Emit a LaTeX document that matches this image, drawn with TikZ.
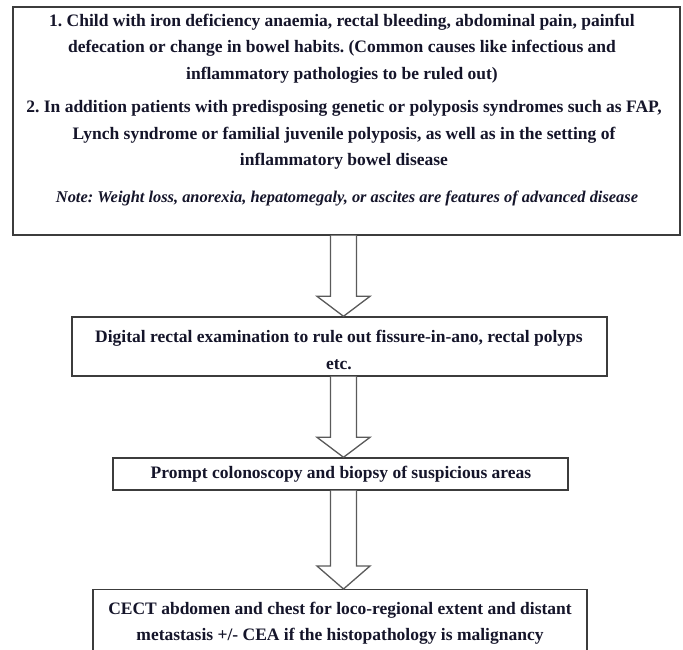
\documentclass[tikz,border=0pt]{standalone}
\usepackage{fontspec}
\setmainfont{Liberation Serif}
\usetikzlibrary{calc}
\definecolor{boxgrey}{HTML}{3C3C3C}
\definecolor{arrgrey}{HTML}{5A5A5A}
\definecolor{txtcol}{HTML}{15152A}
\frenchspacing
\begin{document}
\begin{tikzpicture}[x=1pt,y=-1pt,
  box/.style={draw=boxgrey, line width=1.4pt, fill=white, inner sep=0pt},
  txt/.style={font=\fontsize{17.5}{26.5}\selectfont\bfseries, align=center, text=txtcol, inner sep=0pt},
  notetxt/.style={font=\fontsize{16.4}{18}\selectfont\bfseries\itshape, align=center, text=txtcol, inner sep=0pt},
  barrow/.style={draw=arrgrey, line width=1.3pt, fill=white, line join=miter}]
\useasboundingbox (0,0) rectangle (683,649);
\clip (0,0) rectangle (683,649);
% boxes
\node[box, minimum width=667pt, minimum height=228pt] (b1) at (346.5,121) {};
\node[box, minimum width=535pt, minimum height=59pt] (b2) at (339.5,346.5) {};
\node[box, minimum width=455pt, minimum height=32pt] (b3) at (340.5,474) {};
\node[box, minimum width=494pt, minimum height=120pt, anchor=north] (b4) at (340,589) {};
% texts
\node[txt] (t1a) at (342,48.5) {1. Child with iron deficiency anaemia, rectal bleeding, abdominal pain, painful\\defecation or change in bowel habits. (Common causes like infectious and\\inflammatory pathologies to be ruled out)};
\node[txt] (t1b) at (344,135) {2. In addition patients with predisposing genetic or polyposis syndromes such as FAP,\\Lynch syndrome or familial juvenile polyposis, as well as in the setting of\\inflammatory bowel disease};
\node[notetxt] (t1c) at (347,198) {Note: Weight loss, anorexia, hepatomegaly, or ascites are features of advanced disease};
\node[txt] (t2) at (339,350) {Digital rectal examination to rule out fissure-in-ano, rectal polyps\\etc.};
\node[txt] (t3) at (341,474) {Prompt colonoscopy and biopsy of suspicious areas};
\node[txt] (t4) at (340,623.5) {CECT abdomen and chest for loco-regional extent and distant\\metastasis +/- CEA if the histopathology is malignancy};
% arrows
\coordinate (ax) at (343.5,0);
\path (b1.south -| ax) coordinate (a1s) (b2.north -| ax) coordinate (a1t);
\path (b2.south -| ax) coordinate (a2s) (b3.north -| ax) coordinate (a2t);
\path (b3.south -| ax) coordinate (a3s) (b4.north -| ax) coordinate (a3t);
\draw[barrow] ($(a1s)+(-13,0)$) -- ($(a1t)+(-13,-20)$) -- ($(a1t)+(-26.5,-20)$) -- (a1t) -- ($(a1t)+(26.5,-20)$) -- ($(a1t)+(13,-20)$) -- ($(a1s)+(13,0)$);
\draw[barrow] ($(a2s)+(-13,0)$) -- ($(a2t)+(-13,-20)$) -- ($(a2t)+(-26.5,-20)$) -- (a2t) -- ($(a2t)+(26.5,-20)$) -- ($(a2t)+(13,-20)$) -- ($(a2s)+(13,0)$);
\draw[barrow] ($(a3s)+(-13,0)$) -- ($(a3t)+(-13,-23)$) -- ($(a3t)+(-26.5,-23)$) -- (a3t) -- ($(a3t)+(26.5,-23)$) -- ($(a3t)+(13,-23)$) -- ($(a3s)+(13,0)$);
\end{tikzpicture}
\end{document}
